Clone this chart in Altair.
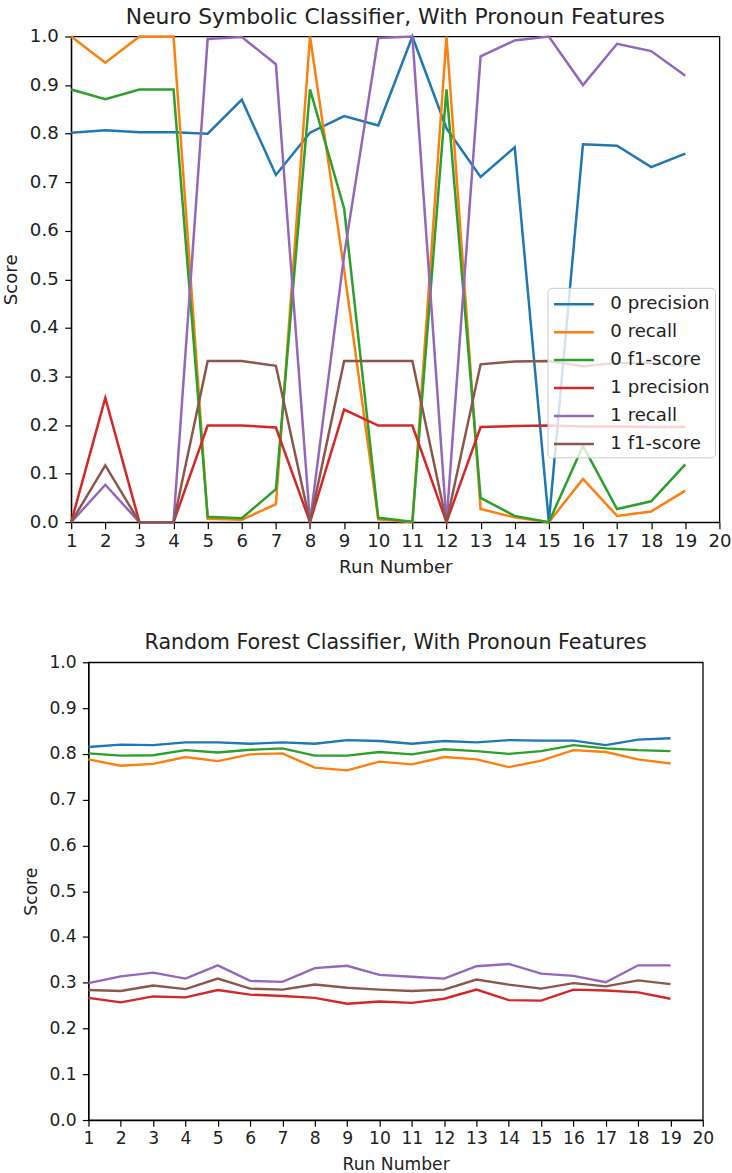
import altair as alt
import pandas as pd

runs = list(range(1, 20))
series_names = ["0 precision", "0 recall", "0 f1-score", "1 precision", "1 recall", "1 f1-score"]
colors = ["#1f77b4", "#ff7f0e", "#2ca02c", "#d62728", "#9467bd", "#8c564b"]

# Neuro Symbolic Classifier
ns_0_precision = [0.802, 0.807, 0.803, 0.803, 0.800, 0.870, 0.715, 0.802, 0.836, 0.817, 1.0, 0.811, 0.711, 0.772, 0.0, 0.778, 0.775, 0.731, 0.759]
ns_0_recall = [1.0, 0.946, 1.0, 1.0, 0.007, 0.005, 0.037, 1.0, 0.52, 0.006, 0.0, 1.0, 0.027, 0.010, 0.0, 0.089, 0.013, 0.022, 0.065]
ns_0_f1 = [0.891, 0.871, 0.891, 0.891, 0.011, 0.008, 0.068, 0.891, 0.646, 0.009, 0.001, 0.891, 0.050, 0.013, 0.0, 0.157, 0.027, 0.043, 0.119]
ns_1_precision = [0.0, 0.256, 0.0, 0.0, 0.199, 0.199, 0.195, 0.0, 0.232, 0.199, 0.199, 0.0, 0.196, 0.198, 0.199, 0.197, 0.197, 0.196, 0.196]
ns_1_recall = [0.0, 0.077, 0.0, 0.0, 0.995, 0.999, 0.943, 0.0, 0.55, 0.997, 1.0, 0.0, 0.959, 0.992, 1.0, 0.900, 0.985, 0.970, 0.919]
ns_1_f1 = [0.0, 0.117, 0.0, 0.0, 0.332, 0.332, 0.322, 0.0, 0.332, 0.332, 0.332, 0.0, 0.325, 0.331, 0.332, 0.321, 0.328, 0.328, 0.322]

# Random Forest Classifier
rf_0_precision = [0.815, 0.820, 0.819, 0.825, 0.825, 0.822, 0.825, 0.822, 0.830, 0.828, 0.822, 0.828, 0.825, 0.830, 0.829, 0.829, 0.819, 0.831, 0.834]
rf_0_recall = [0.788, 0.774, 0.778, 0.793, 0.784, 0.799, 0.801, 0.770, 0.764, 0.783, 0.777, 0.793, 0.788, 0.771, 0.785, 0.808, 0.804, 0.788, 0.779]
rf_0_f1 = [0.801, 0.796, 0.797, 0.808, 0.803, 0.809, 0.812, 0.796, 0.796, 0.804, 0.799, 0.810, 0.806, 0.800, 0.806, 0.819, 0.812, 0.808, 0.806]
rf_1_precision = [0.267, 0.257, 0.270, 0.268, 0.284, 0.274, 0.271, 0.267, 0.254, 0.259, 0.256, 0.265, 0.285, 0.262, 0.261, 0.285, 0.283, 0.279, 0.265]
rf_1_recall = [0.299, 0.314, 0.322, 0.309, 0.338, 0.304, 0.302, 0.332, 0.337, 0.317, 0.313, 0.309, 0.336, 0.341, 0.320, 0.315, 0.301, 0.338, 0.338]
rf_1_f1 = [0.284, 0.282, 0.294, 0.286, 0.309, 0.287, 0.285, 0.296, 0.289, 0.285, 0.282, 0.285, 0.307, 0.296, 0.287, 0.299, 0.292, 0.305, 0.297]

x_ticks = list(range(1, 21))
y_ticks = [round(i * 0.1, 1) for i in range(11)]
FONT = "DejaVu Sans"


def long_table(cols):
    rows = []
    for name, vals in zip(series_names, cols):
        for r, v in zip(runs, vals):
            rows.append({"run": r, "score": v, "series": name})
    return pd.DataFrame(rows)


def panel(df, title, w, h, s, legend_x, legend_y, title_offset, left_extent=None):
    fs = 18.2 * s
    color_scale = alt.Scale(domain=series_names, range=colors)
    common = dict(grid=False, labelFontSize=fs, titleFontSize=fs, tickSize=6.5 * s,
                  labelFlush=False, labelFont=FONT, titleFont=FONT, titleFontWeight="normal",
                  domainColor="black", tickColor="black", labelColor="#222222",
                  titleColor="#222222", domainWidth=1.2, tickWidth=1.2)
    lines = alt.Chart(df).mark_line(strokeWidth=2.5 * s).encode(
        x=alt.X("run:Q", scale=alt.Scale(domain=[1, 20], nice=False),
                axis=alt.Axis(values=x_ticks, title="Run Number",
                              labelPadding=4 * s, titlePadding=8.6 * s, **common)),
        y=alt.Y("score:Q", scale=alt.Scale(domain=[0, 1], nice=False),
                axis=alt.Axis(values=y_ticks, format=".1f", title="Score",
                              labelPadding=6.5 * s, titlePadding=9 * s, **common)),
        color=alt.Color("series:N", scale=color_scale, sort=series_names,
                        legend=alt.Legend(title=None, orient="none",
                                          legendX=legend_x, legendY=legend_y,
                                          symbolType="M-1,0H3", symbolSize=(20 * s) ** 2,
                                          symbolStrokeWidth=2.5 * s, labelOffset=35 * s,
                                          rowPadding=8 * s, padding=5 * s,
                                          labelFontSize=fs, labelFont=FONT, labelColor="#222222",
                                          fillColor="rgba(255,255,255,0.8)", strokeColor="#cccccc",
                                          cornerRadius=4)),
        order=alt.Order("order:Q"),
    ).transform_calculate(
        order="indexof(" + str(series_names) + ", datum.series)"
    )
    if left_extent is not None:
        # invisible white spacer that widens the panel's left bound (layout only)
        spacer = alt.Chart(df).mark_rule(color="white", strokeWidth=1).encode(
            x=alt.value(-left_extent), y=alt.value(0), y2=alt.value(1)
        )
        layer = alt.layer(lines, spacer)
    else:
        layer = lines
    return layer.properties(
        width=w, height=h,
        view=alt.ViewBackground(stroke="#000000", strokeWidth=1.3),
        title=alt.TitleParams(title, fontSize=21.9 * s, font=FONT, fontWeight="normal",
                              color="#222222", offset=title_offset),
    )


top = panel(long_table([ns_0_precision, ns_0_recall, ns_0_f1, ns_1_precision, ns_1_recall, ns_1_f1]),
            "Neuro Symbolic Classifier, With Pronoun Features", 650, 487, 1.0, 478, 252, -2)
bottom = panel(long_table([rf_0_precision, rf_0_recall, rf_0_f1, rf_1_precision, rf_1_recall, rf_1_f1]),
               "Random Forest Classifier, With Pronoun Features", 616, 459, 0.945, 9, 148, 0,
               left_extent=75)

chart = alt.vconcat(top, bottom, spacing=53.5, center=True).properties(
    padding={"top": 3, "left": 0, "right": 0, "bottom": 0}
).configure_view(
    stroke="#000000", strokeWidth=1.3
).configure(background="white")

chart.save("out.html", embed_options={"renderer": "svg", "actions": False})
